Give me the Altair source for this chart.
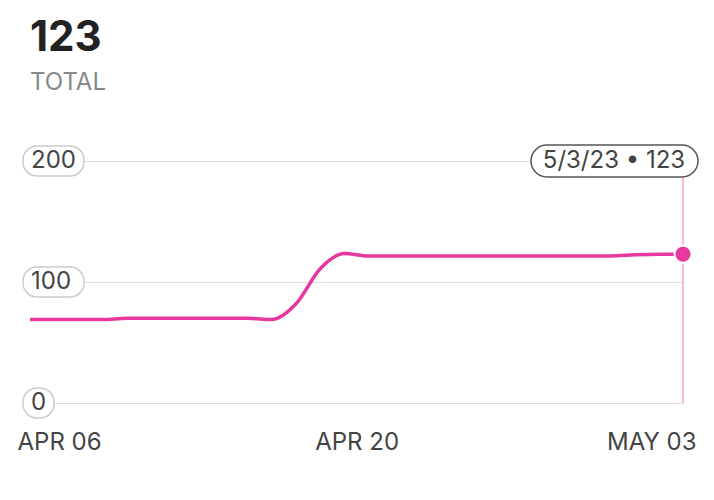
import altair as alt
import pandas as pd

dates = pd.date_range("2023-04-06", "2023-05-03", freq="D")
values = [69, 69, 69, 69, 70, 70, 70, 70, 70, 70, 69, 82, 111, 123.5,
          121.5, 121.5, 121.5, 121.5, 121.5, 121.5, 121.5, 121.5, 121.5, 121.5,
          121.5, 122.5, 123, 123]
y_ticks = [0, 100, 200]
y_labels = ["0", "100", "200"]
last_label = "5/3/23 • 123"

PINK = "#e8389f"
FONT = "Inter"

df = pd.DataFrame({"date": dates, "value": values})
last = df.tail(1).assign(label=last_label)
ticks = pd.DataFrame({"v": y_ticks, "lab": y_labels})

xscale = alt.Scale(domain=[alt.DateTime(year=2023, month=4, date=6),
                           alt.DateTime(year=2023, month=5, date=3)], nice=False)
yscale = alt.Scale(domain=[0, 200], nice=False)

xaxis = alt.Axis(
    values=[alt.DateTime(year=2023, month=4, date=6),
            alt.DateTime(year=2023, month=4, date=20),
            alt.DateTime(year=2023, month=5, date=3)],
    labelExpr="upper(timeFormat(datum.value, '%b %d'))",
    labelFlush=True, labelFlushOffset=13,
    labelOffset={"condition": {"test": "date(datum.value) == 20", "value": -12}, "value": 0},
    grid=False, ticks=False, domain=False,
    labelFontSize=24, labelColor="#444", labelFont=FONT, labelPadding=27, title=None,
)
yaxis = alt.Axis(values=y_ticks, labels=False, ticks=False, domain=False,
                 grid=True, gridColor="#dedede", gridWidth=1.2, title=None)

X = alt.X("date:T", scale=xscale, axis=xaxis)
Y = alt.Y("value:Q", scale=yscale, axis=yaxis)

line = alt.Chart(df).mark_line(color=PINK, strokeWidth=3.5, interpolate="monotone").encode(x=X, y=Y)

rule = alt.Chart(last).mark_rule(color="#f5a0cd", strokeWidth=1.5).encode(
    x=X, y=alt.Y(datum=0, scale=yscale, axis=yaxis), y2=alt.Y2(datum=200))

dot = alt.Chart(last).mark_circle(size=290, color=PINK, opacity=1, stroke="white", strokeWidth=2).encode(x=X, y=Y)

tip_rect = alt.Chart(last).mark_rect(
    fill="white", stroke="#555", strokeWidth=1.5, cornerRadius=16,
    xOffset=-152, x2Offset=15, yOffset=-16, y2Offset=16
).encode(x=X, x2="date:T", y=alt.Y(datum=200, scale=yscale, axis=yaxis), y2=alt.Y2(datum=200))

tip_text = alt.Chart(last).mark_text(
    font=FONT, fontSize=24, color="#444", dx=-69, align="center", baseline="middle"
).encode(x=X, y=alt.Y(datum=200, scale=yscale, axis=yaxis), text="label:N")

pill_rect = alt.Chart(ticks).mark_rect(
    fill="white", stroke="#cccccc", strokeWidth=1.5, cornerRadius=14,
    yOffset=-15, y2Offset=15, width={"expr": "15*length(datum.lab)+16"}
).encode(x={"value": {"expr": "-7 + (15*length(datum.lab)+16)/2"}},
         y=alt.Y("v:Q", scale=yscale, axis=yaxis), y2="v:Q")

pill_text = alt.Chart(ticks).mark_text(
    font=FONT, fontSize=24, color="#444", align="left", baseline="middle", dx=1
).encode(x=alt.value(0), y=alt.Y("v:Q", scale=yscale, axis=yaxis), text="lab:N")

chart = alt.layer(line, rule, tip_rect, tip_text, pill_rect, pill_text, dot).properties(
    width=653, height=242,
    background="white",
    autosize=alt.AutoSizeParams(type="none"),
    padding={"left": 22, "top": 153, "right": 23, "bottom": 89},
    title=alt.Title("123", subtitle="TOTAL", anchor="start", frame="group",
                    font=FONT, fontSize=42, fontWeight="bold", color="#222",
                    subtitleFont=FONT, subtitleFontSize=24, subtitleColor="#888",
                    subtitlePadding=11, offset=48),
).configure_view(stroke="transparent", strokeWidth=0)

chart.save("out.html", embed_options={"renderer": "svg", "actions": False})
